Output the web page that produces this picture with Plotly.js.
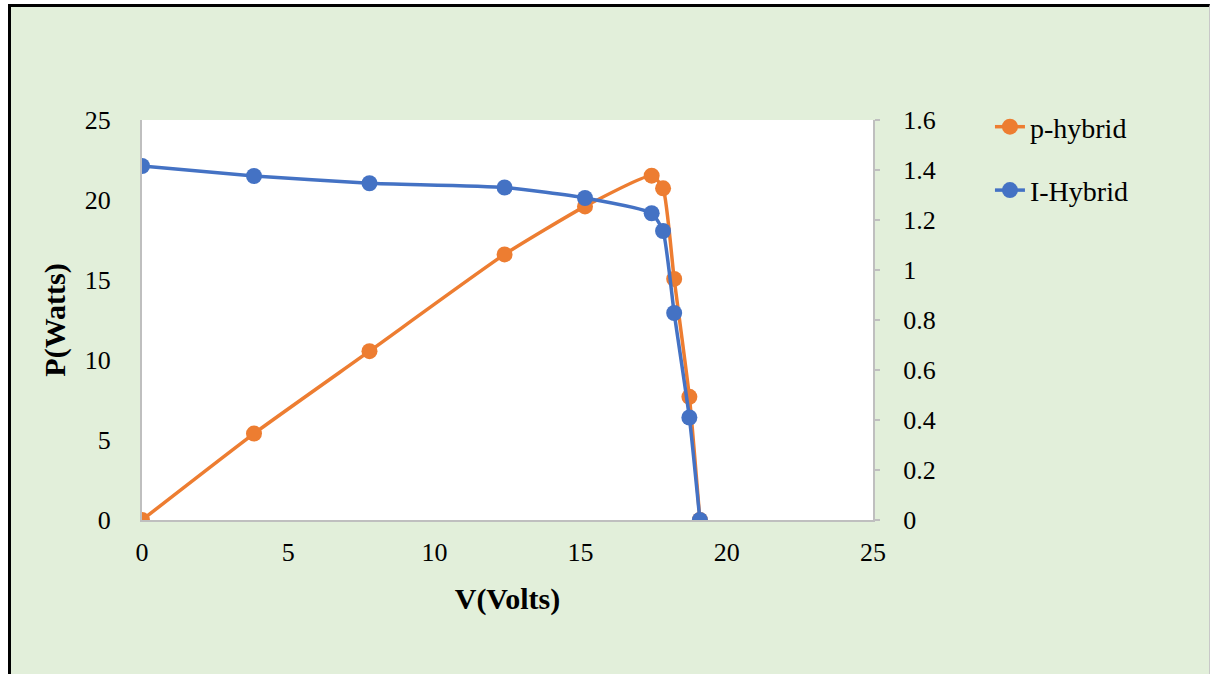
<!DOCTYPE html>
<html>
<head>
<meta charset="utf-8">
<script src="https://cdn.plot.ly/plotly-3.0.1.min.js"></script>
<style>
  html, body { margin: 0; padding: 0; background: #ffffff; }
  #wrap { position: absolute; left: 0; top: 0; width: 1210px; height: 674px; background: #ffffff; overflow: hidden; }
  #frame { position: absolute; left: 8px; top: 4px; width: 1202px; height: 670px; border-left: 3px solid #000; border-top: 3px solid #000; border-right: 1px solid #c8c8c8; box-sizing: border-box; }
  #plot { position: absolute; left: 0; top: 0; width: 1198px; height: 667px; }
</style>
</head>
<body>
<div id="wrap"><div id="frame"><div id="plot"></div></div></div>
<script>
// Data
const voltage = [0, 3.83, 7.78, 12.4, 15.15, 17.43, 17.82, 18.2, 18.72, 19.08];
const powerHybrid = [0, 5.4, 10.55, 16.6, 19.6, 21.52, 20.73, 15.07, 7.7, 0];
const currentHybrid = [1.416, 1.376, 1.347, 1.33, 1.288, 1.227, 1.156, 0.828, 0.41, 0];
const seriesNames = ["p-hybrid", "I-Hybrid"];
const xTitle = "V(Volts)";
const yTitle = "P(Watts)";

const FONT = "'Liberation Serif', 'Times New Roman', serif";

const traces = [
  {
    x: voltage, y: powerHybrid, name: seriesNames[0], type: "scatter", mode: "lines+markers",
    line: {color: "#ED7D31", width: 3.5, shape: "spline", smoothing: 0.5},
    marker: {color: "#ED7D31", size: 16},
    yaxis: "y", legendgroup: "a"
  },
  {
    x: voltage, y: currentHybrid, name: seriesNames[1], type: "scatter", mode: "lines+markers",
    line: {color: "#4472C4", width: 3.5, shape: "spline", smoothing: 0.5},
    marker: {color: "#4472C4", size: 16},
    yaxis: "y2", legendgroup: "b"
  }
];

const layout = {
  width: 1198, height: 667,
  paper_bgcolor: "#E2EFDA",
  plot_bgcolor: "#ffffff",
  margin: {l: 131, r: 336, t: 113, b: 154},
  font: {family: FONT, size: 26, color: "#000"},
  showlegend: true,
  legend: {
    x: 1.16, y: 1.045, xanchor: "left", yanchor: "top",
    bgcolor: "rgba(0,0,0,0)",
    font: {family: FONT, size: 28, color: "#000"},
    traceorder: "grouped", tracegroupgap: 24,
    itemwidth: 30
  },
  xaxis: {
    range: [0, 25], dtick: 5, tick0: 0,
    showgrid: false, zeroline: false,
    showline: true, linecolor: "#BFBFBF", linewidth: 2,
    ticks: "", ticklabelstandoff: 8,
    tickfont: {family: FONT, size: 26, color: "#000"},
    title: {text: "<b>" + xTitle + "</b>", font: {family: FONT, size: 30, color: "#000"}, standoff: 22}
  },
  yaxis: {
    range: [0, 25], dtick: 5, tick0: 0,
    showgrid: false, zeroline: false,
    showline: true, linecolor: "#BFBFBF", linewidth: 2,
    ticks: "", ticklabelstandoff: 24,
    tickfont: {family: FONT, size: 26, color: "#000"},
    title: {text: "<b>" + yTitle + "</b>", font: {family: FONT, size: 30, color: "#000"}, standoff: 10}
  },
  yaxis2: {
    range: [0, 1.6], dtick: 0.2, tick0: 0,
    overlaying: "y", side: "right",
    showgrid: false, zeroline: false,
    showline: true, linecolor: "#BFBFBF", linewidth: 2,
    ticks: "outside", ticklen: 5, tickcolor: "#BFBFBF", tickwidth: 2,
    ticklabelstandoff: 18,
    tickfont: {family: FONT, size: 26, color: "#000"}
  }
};

Plotly.newPlot("plot", traces, layout, {displayModeBar: false, staticPlot: true});
</script>
</body>
</html>
